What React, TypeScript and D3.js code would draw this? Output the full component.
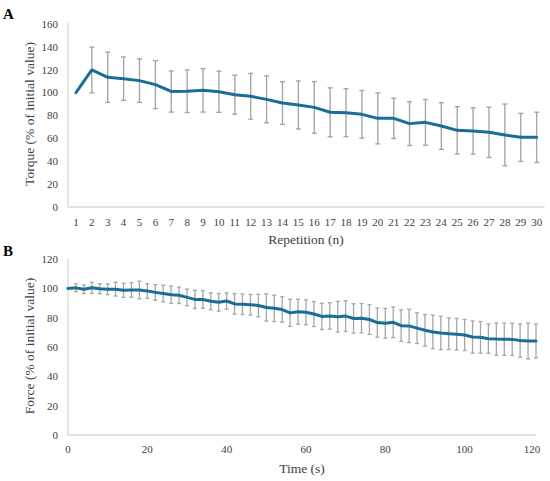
import * as d3 from 'd3';

// Panel A: torque over repetitions
const repetitions = [1, 2, 3, 4, 5, 6, 7, 8, 9, 10, 11, 12, 13, 14, 15, 16, 17, 18, 19, 20, 21, 22, 23, 24, 25, 26, 27, 28, 29, 30];
const torqueMean = [100, 119.8, 113.4, 112.2, 110.5, 107, 101, 101.2, 102, 100.8, 98.2, 96.8, 94.1, 90.9, 89.2, 87.1, 82.8, 82.5, 81, 77.5, 77.5, 72.9, 74, 70.8, 67, 66.5, 65.3, 63, 60.9, 60.9];
const torqueSD = [0, 20, 22, 19, 19, 21, 18, 18.6, 19, 18, 17, 20, 20.5, 18.7, 21, 22.6, 21.4, 21, 20.8, 22.3, 17.6, 19.2, 20, 20.4, 20.7, 20.3, 22, 27, 21, 22];
const torqueTicks = [0, 20, 40, 60, 80, 100, 120, 140, 160];

// Panel B: force over time
const timePoints = [0, 2, 4, 6, 8, 10, 12, 14, 16, 18, 20, 22, 24, 26, 28, 30, 32, 34, 36, 38, 40, 42, 44, 46, 48, 50, 52, 54, 56, 58, 60, 62, 64, 66, 68, 70, 72, 74, 76, 78, 80, 82, 84, 86, 88, 90, 92, 94, 96, 98, 100, 102, 104, 106, 108, 110, 112, 114, 116, 118];
const forceMean = [100, 100.5, 99.5, 100.6, 99.9, 99.5, 99.6, 98.8, 99.1, 99, 98.3, 97.4, 96.6, 95.8, 95.4, 94, 92.6, 92.6, 91.3, 90.6, 91.5, 89.5, 89.3, 89, 88.4, 87.1, 86.5, 85.7, 83.4, 84.2, 83.8, 82.6, 81, 81.3, 80.8, 81.2, 79.6, 79.8, 78.9, 76.8, 76.3, 77, 74.7, 74.5, 73, 71.5, 70.4, 69.7, 69.2, 68.8, 68.3, 66.9, 66.7, 65.8, 65.5, 65.4, 65.3, 64.5, 64.2, 64.2];
const forceSD = [0, 2.7, 2.9, 3.7, 3.4, 3.7, 4.7, 4.8, 5, 6, 5, 5.3, 5.7, 5.9, 5.6, 5.7, 6.2, 6, 5.8, 6, 5.5, 7, 7, 7, 7.7, 9.3, 9, 8.7, 9.3, 8.5, 8.5, 8.5, 9, 9, 10.5, 10.5, 10, 10, 10.2, 10, 10.2, 10.5, 10.8, 11.4, 10.5, 10.8, 11.4, 11.4, 10.8, 10.8, 10.6, 11, 10.8, 10, 11, 11, 11, 11.4, 12.3, 11.6];
const forceTicks = [0, 20, 40, 60, 80, 100, 120];
const timeTicks = [0, 20, 40, 60, 80, 100, 120];

const LINE = '#1a6e96';
const ERR = '#a6a6a6';
const AXIS = '#d9d9d9';
const TEXT = '#404040';
const FONT = '"Liberation Serif", "Times New Roman", serif';

export default function App() {
  // --- panel A scales
  const xA = d3.scaleBand<number>().domain(repetitions).range([68, 544.6]).padding(0);
  const yA = d3.scaleLinear().domain([0, 160]).range([207, 24]);
  const cx = (r: number) => (xA(r) ?? 0) + xA.bandwidth() / 2;
  const lineA = d3.line<number>().x((_, i) => cx(repetitions[i])).y(d => yA(d));

  // --- panel B scales
  const xB = d3.scaleLinear().domain([0, 118]).range([68, 536]).clamp(true);
  const yB = d3.scaleLinear().domain([0, 120]).range([435, 259.3]);
  const lineB = d3.line<number>().x((_, i) => xB(timePoints[i])).y(d => yB(d));

  return (
    <svg width={550} height={481} style={{ position: 'absolute', left: 0, top: 0, background: '#fff' }}
      fontFamily={FONT}>
      {/* ---------- Panel A ---------- */}
      <text x={3} y={19} fontSize={15} fontWeight="bold" fill="#000">A</text>
      <line x1={68} x2={68} y1={yA(0)} y2={23} stroke={AXIS} strokeWidth={1.3} />
      <line x1={68} x2={544.6} y1={yA(0)} y2={yA(0)} stroke={AXIS} strokeWidth={1.3} />
      {torqueTicks.map(t => (
        <text key={t} x={58} y={yA(t)} dy="0.35em" textAnchor="end" fontSize={11} fill={TEXT}>{t}</text>
      ))}
      {repetitions.map(r => (
        <text key={r} x={cx(r)} y={221.7} dy="0.35em" textAnchor="middle" fontSize={11} fill={TEXT}>{r}</text>
      ))}
      {repetitions.map((r, i) => torqueSD[i] > 0 && (
        <g key={r} stroke={ERR} strokeWidth={1.4}>
          <line x1={cx(r)} x2={cx(r)} y1={yA(torqueMean[i] + torqueSD[i])} y2={yA(torqueMean[i] - torqueSD[i])} />
          <line x1={cx(r) - 2.5} x2={cx(r) + 2.5} y1={yA(torqueMean[i] + torqueSD[i])} y2={yA(torqueMean[i] + torqueSD[i])} />
          <line x1={cx(r) - 2.5} x2={cx(r) + 2.5} y1={yA(torqueMean[i] - torqueSD[i])} y2={yA(torqueMean[i] - torqueSD[i])} />
        </g>
      ))}
      <path d={lineA(torqueMean) ?? ''} fill="none" stroke={LINE} strokeWidth={3} strokeLinejoin="round" strokeLinecap="round" />
      <text x={306} y={239} dy="0.35em" textAnchor="middle" fontSize={13.5} fill={TEXT}>Repetition (n)</text>
      <text transform="translate(29,114) rotate(-90)" dy="0.35em" textAnchor="middle" fontSize={13.5} fill={TEXT}>
        Torque (% of initial value)
      </text>

      {/* ---------- Panel B ---------- */}
      <text x={3} y={256} fontSize={15} fontWeight="bold" fill="#000">B</text>
      <line x1={68} x2={68} y1={yB(0)} y2={259} stroke={AXIS} strokeWidth={1.3} />
      <line x1={68} x2={536} y1={yB(0)} y2={yB(0)} stroke={AXIS} strokeWidth={1.3} />
      {forceTicks.map(t => (
        <text key={t} x={58} y={yB(t)} dy="0.35em" textAnchor="end" fontSize={11} fill={TEXT}>{t}</text>
      ))}
      {timeTicks.map(t => (
        <text key={t} x={Math.min(xB(t), 532)} y={449} dy="0.35em" textAnchor="middle" fontSize={11} fill={TEXT}>{t}</text>
      ))}
      {timePoints.map((t, i) => forceSD[i] > 0 && (
        <g key={t} stroke={ERR} strokeWidth={1.3}>
          <line x1={xB(t)} x2={xB(t)} y1={yB(forceMean[i] + forceSD[i])} y2={yB(forceMean[i] - forceSD[i])} />
          <line x1={xB(t) - 2} x2={xB(t) + 2} y1={yB(forceMean[i] + forceSD[i])} y2={yB(forceMean[i] + forceSD[i])} />
          <line x1={xB(t) - 2} x2={xB(t) + 2} y1={yB(forceMean[i] - forceSD[i])} y2={yB(forceMean[i] - forceSD[i])} />
        </g>
      ))}
      <path d={lineB(forceMean) ?? ''} fill="none" stroke={LINE} strokeWidth={3} strokeLinejoin="round" strokeLinecap="round" />
      <text x={302} y={468} dy="0.35em" textAnchor="middle" fontSize={13.5} fill={TEXT}>Time (s)</text>
      <text transform="translate(29,346) rotate(-90)" dy="0.35em" textAnchor="middle" fontSize={13.5} fill={TEXT}>
        Force (% of initial value)
      </text>
    </svg>
  );
}
